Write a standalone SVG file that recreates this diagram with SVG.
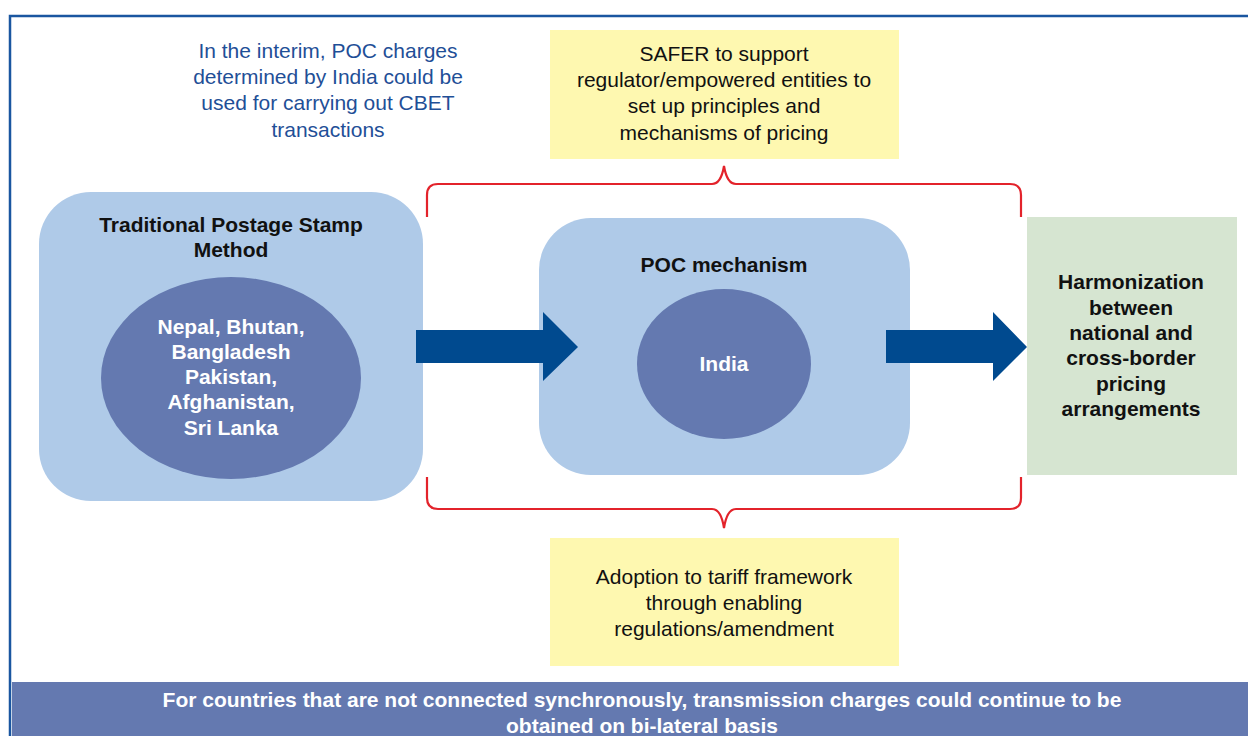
<svg xmlns="http://www.w3.org/2000/svg" width="1248" height="736" viewBox="0 0 1248 736">
<style>
text{font-family:"Liberation Sans",Arial,sans-serif;text-anchor:middle}
.blue{fill:#1f4f97;font-size:21px}
.note{fill:#111;font-size:21px}
.title{fill:#111;font-size:21px;font-weight:bold}
.white{fill:#fff;font-size:21px;font-weight:bold}
.band{fill:#fff;font-size:21px;font-weight:bold}
.node{fill:#afcae8}
.inner{fill:#6479b0}
.yellow{fill:#fef8b0}
.brace{fill:none;stroke:#e3232b;stroke-width:2.2}
.arrow{fill:#004a8f}
</style>
<rect width="1248" height="736" fill="#fff"/>
<g id="frame">
<path d="M10,736 L10,16 L1248,16" fill="none" stroke="#1a56a0" stroke-width="2.5"/>
</g>
<g id="interim-note">
<text class="blue" x="328" y="58">In the interim, POC charges</text>
<text class="blue" x="328" y="84">determined by India could be</text>
<text class="blue" x="328" y="110">used for carrying out CBET</text>
<text class="blue" x="328" y="137">transactions</text>
</g>
<g id="safer">
<rect class="yellow" x="550" y="30" width="349" height="129"/>
<text class="note" x="724" y="61">SAFER to support</text>
<text class="note" x="724" y="87">regulator/empowered entities to</text>
<text class="note" x="724" y="113">set up principles and</text>
<text class="note" x="724" y="140">mechanisms of pricing</text>
</g>
<g id="traditional">
<rect class="node" x="39" y="192" width="384" height="309" rx="52"/>
<text class="title" x="231" y="232">Traditional Postage Stamp</text>
<text class="title" x="231" y="257">Method</text>
<ellipse class="inner" cx="231" cy="378" rx="130" ry="101"/>
<text class="white" x="231" y="334">Nepal, Bhutan,</text>
<text class="white" x="231" y="359">Bangladesh</text>
<text class="white" x="231" y="384">Pakistan,</text>
<text class="white" x="231" y="409">Afghanistan,</text>
<text class="white" x="231" y="435">Sri Lanka</text>
</g>
<g id="poc">
<rect class="node" x="539" y="218" width="371" height="257" rx="52"/>
<text class="title" x="724" y="272">POC mechanism</text>
<ellipse class="inner" cx="724" cy="364" rx="87" ry="75"/>
<text class="white" x="724" y="371">India</text>
</g>
<g id="harmonization">
<rect x="1027" y="217" width="210" height="258" fill="#d6e5d1"/>
<text class="title" x="1131" y="289">Harmonization</text>
<text class="title" x="1131" y="315">between</text>
<text class="title" x="1131" y="340">national and</text>
<text class="title" x="1131" y="365">cross-border</text>
<text class="title" x="1131" y="391">pricing</text>
<text class="title" x="1131" y="416">arrangements</text>
</g>
<g id="adoption">
<rect class="yellow" x="550" y="538" width="349" height="128"/>
<text class="note" x="724" y="584">Adoption to tariff framework</text>
<text class="note" x="724" y="610">through enabling</text>
<text class="note" x="724" y="636">regulations/amendment</text>
</g>
<g id="connectors">
<path class="arrow" d="M416,330 L543,330 L543,312 L578,347 L543,381 L543,363 L416,363 Z"/>
<path class="arrow" d="M886,330 L993,330 L993,312 L1027,347 L993,381 L993,363 L886,363 Z"/>
<path class="brace" d="M427,217 L427,195 Q427,184 438,184 L712,184 Q721,184 724,166 Q727,184 736,184 L1010,184 Q1021,184 1021,195 L1021,217"/>
<path class="brace" d="M427,477 L427,498 Q427,509 438,509 L712,509 Q721,509 724,528 Q727,509 736,509 L1010,509 Q1021,509 1021,498 L1021,477"/>
</g>
<g id="footer">
<rect x="12" y="682" width="1236" height="54" fill="#6479b0"/>
<text class="band" x="642" y="707">For countries that are not connected synchronously, transmission charges could continue to be</text>
<text class="band" x="642" y="733">obtained on bi-lateral basis</text>
</g>
</svg>
